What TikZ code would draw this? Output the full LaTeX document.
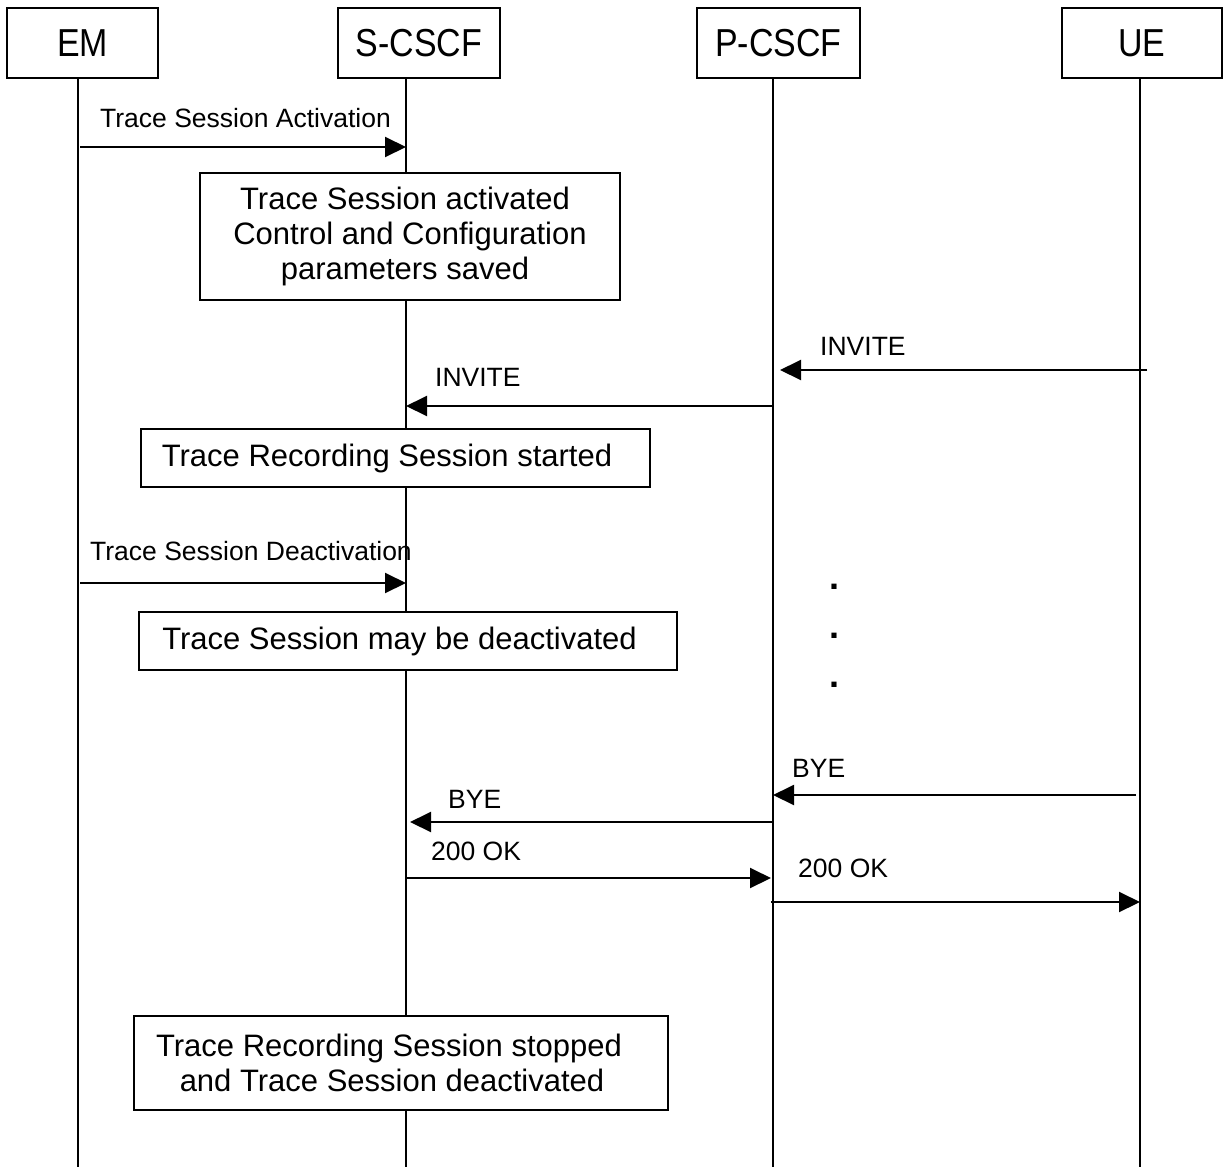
\documentclass[tikz,border=0pt]{standalone}
\usepackage{fontspec}
\setmainfont{Liberation Sans}
\newfontfamily\hdrfont[FakeStretch=0.87]{Liberation Sans}
\usetikzlibrary{arrows.meta,positioning}

\tikzset{
  hdr/.style={draw, line width=2pt, minimum height=70pt, inner sep=0pt,
    font=\hdrfont\fontsize{39}{39}\selectfont},
  note/.style={draw, fill=white, line width=2pt, inner sep=0pt, align=center,
    font=\fontsize{31}{35}\selectfont},
  life/.style={line width=2pt},
  msg/.style={line width=2pt, -{Triangle[length=21pt,width=20pt]}},
  lbl/.style={anchor=base west, inner sep=0pt, font=\fontsize{26.5}{30}\selectfont},
  dot/.style={inner sep=0pt, font=\bfseries\fontsize{36}{36}\selectfont}
}

\begin{document}
\begin{tikzpicture}[x=1pt,y=-1pt]
    \useasboundingbox (0,0) rectangle (1223,1167);

    % entities
    \node[hdr, minimum width=151pt] (em) at (82.5,43) {EM};
    \node[hdr, minimum width=162pt] (scscf) at (419,43) {S-CSCF};
    \node[hdr, minimum width=163pt] (pcscf) at (778.5,43) {P-CSCF};
    \node[hdr, minimum width=160pt] (ue) at (1142,43) {UE};

    % lifelines
    \coordinate (emx) at (78,1167);
    \coordinate (sx) at (406,1167);
    \coordinate (px) at (773,1167);
    \coordinate (uex) at (1140,1167);
    \draw[life] (emx |- em.south) -- (emx);
    \draw[life] (sx |- scscf.south) -- (sx);
    \draw[life] (px |- pcscf.south) -- (px);
    \draw[life] (uex |- ue.south) -- (uex);

    % message rows
    \coordinate (r1) at (0,147);
    \coordinate (r2) at (0,370);
    \coordinate (r3) at (0,406);
    \coordinate (r4) at (0,583);
    \coordinate (r5) at (0,795);
    \coordinate (r6) at (0,822);
    \coordinate (r7) at (0,878);
    \coordinate (r8) at (0,902);

    % activation
    \draw[msg] ([xshift=2pt]emx |- r1) -- (sx |- r1);
    \node[lbl] (act) at (100,127) {Trace Session Activation};
    \node[note, minimum width=420pt, minimum height=127pt] (saved) at (410,236.5)
        {\hspace*{-10pt}Trace Session activated\\Control and Configuration\\\hspace*{-10pt}parameters saved};

    % invite
    \draw[msg] ([xshift=7pt]uex |- r2) -- ([xshift=7pt]px |- r2);
    \node[lbl] (inv1) at (820,355) {INVITE};
    \draw[msg] (px |- r3) -- (sx |- r3);
    \node[lbl] (inv2) at (435,386) {INVITE};
    \node[note, minimum width=509pt, minimum height=58pt] (started) at (395,458)
        {\hspace*{-16pt}Trace Recording Session started};

    % deactivation
    \draw[msg] ([xshift=2pt]emx |- r4) -- (sx |- r4);
    \node[lbl] (deact) at (90,560) {Trace Session Deactivation};
    \node[note, minimum width=538pt, minimum height=58pt] (maybe) at (408,641)
        {\hspace*{-17pt}Trace Session may be deactivated};

    % dots
    \node[dot] (dot1) at (834,587) {.};
    \node[dot] (dot2) at (834,636) {.};
    \node[dot] (dot3) at (834,685) {.};

    % bye and 200 OK
    \draw[msg] ([xshift=-4pt]uex |- r5) -- (px |- r5);
    \node[lbl] (bye1) at (792,777) {BYE};
    \draw[msg] (px |- r6) -- ([xshift=4pt]sx |- r6);
    \node[lbl] (bye2) at (448,808) {BYE};
    \draw[msg] (sx |- r7) -- ([xshift=-2pt]px |- r7);
    \node[lbl] (ok1) at (431,860) {200 OK};
    \draw[msg] ([xshift=-2pt]px |- r8) -- (uex |- r8);
    \node[lbl] (ok2) at (798,877) {200 OK};

    % end
    \node[note, minimum width=534pt, minimum height=94pt] (stopped) at (401,1063)
        {\hspace*{-24pt}Trace Recording Session stopped\\\hspace*{-18pt}and Trace Session deactivated};

\end{tikzpicture}
\end{document}
